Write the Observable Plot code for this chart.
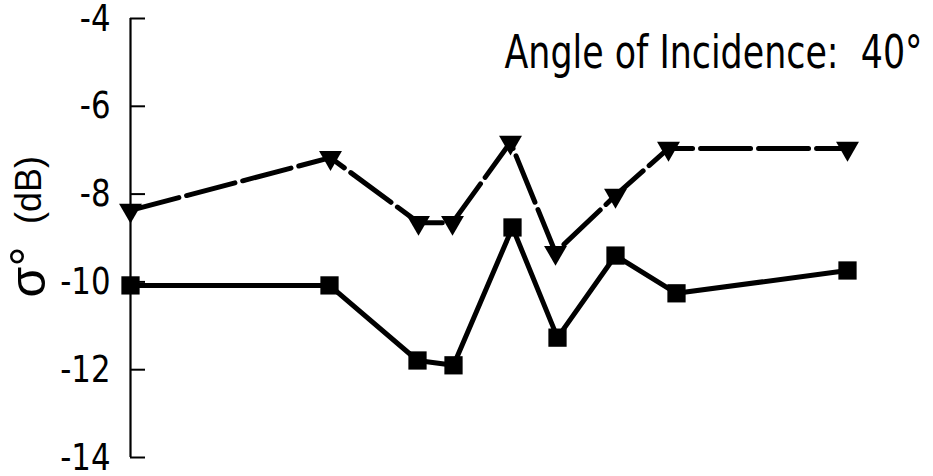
<!DOCTYPE html>
<html>
<head>
<meta charset="utf-8">
<script src="https://cdn.jsdelivr.net/npm/d3@7"></script>
<script src="https://cdn.jsdelivr.net/npm/@observablehq/plot@0.6"></script>
<style>
  html, body { margin: 0; padding: 0; background: #fff; }
  #chart svg { display: block; }
</style>
</head>
<body>
<div id="chart"></div>
<script>
// Backscatter coefficient (dB) along the sampled positions
const yTicks = [-4, -6, -8, -10, -12, -14];

// dashed series, inverted triangles
const triPos = [0, 20.0, 28.8, 32.2, 38.0, 42.5, 48.5, 53.8, 71.7];
const triVal = [-8.37, -7.17, -8.65, -8.65, -6.82, -9.33, -8.03, -6.96, -6.96];

// solid series, squares
const sqPos = [0, 19.9, 28.7, 32.3, 38.2, 42.7, 48.5, 54.6, 71.7];
const sqVal = [-10.08, -10.08, -11.79, -11.90, -8.76, -11.27, -9.40, -10.26, -9.74];

const titleText = "Angle of Incidence:  40°";
const yLabelSymbol = "σ°";
const yLabelUnit = "(dB)";

const tri = triPos.map((x, i) => ({x, y: triVal[i]}));
const sq = sqPos.map((x, i) => ({x, y: sqVal[i]}));

const narrow = "'DejaVu Sans Condensed', 'Liberation Sans Narrow', sans-serif";

const chart = Plot.plot({
  width: 933,
  height: 476,
  marginLeft: 130,
  marginRight: 86,
  marginTop: 18,
  marginBottom: 19,
  style: {fontFamily: narrow, color: "#000", background: "#fff"},
  x: {domain: [0, 71.7], axis: null},
  y: {domain: [-14, -4], axis: null},
  marks: [
    Plot.ruleX([0], {strokeWidth: 2.2}),
    Plot.axisY(yTicks, {
      tickSize: -15,
      tickPadding: 35,
      strokeWidth: 2,
      fontSize: 38,
      stroke: "#000",
      tickFormat: d => String(d),
      label: null
    }),
    Plot.line(tri, {x: "x", y: "y", strokeWidth: 5, strokeDasharray: "50,8"}),
    Plot.line(sq, {x: "x", y: "y", strokeWidth: 5}),
    Plot.dot(tri, {x: "x", y: "y", symbol: "triangle", rotate: 180, r: 8.5, fill: "#000", stroke: null}),
    Plot.dot(sq, {x: "x", y: "y", symbol: "square", r: 10.3, fill: "#000", stroke: null}),
    Plot.text([titleText], {
      frameAnchor: "top-right", textAnchor: "end", lineAnchor: "bottom",
      dx: 75, dy: 49, fontSize: 46, fill: "#000"
    }),
    Plot.text([yLabelUnit], {
      frameAnchor: "left", rotate: -90, textAnchor: "middle", lineAnchor: "middle",
      dx: -101, dy: -48, fontSize: 36, fontFamily: "'Liberation Sans', sans-serif", fill: "#000"
    }),
    Plot.text([yLabelSymbol], {
      frameAnchor: "left", rotate: -90, textAnchor: "middle", lineAnchor: "middle",
      dx: -102, dy: 34, fontSize: 50, fontFamily: "'Liberation Sans', sans-serif", fill: "#000"
    })
  ]
});

document.getElementById("chart").appendChild(chart);

// Narrow the lettering to a condensed width
function condense(nodes, length) {
  nodes.each(function () {
    this.setAttribute("textLength", length(this.getComputedTextLength()));
    this.setAttribute("lengthAdjust", "spacingAndGlyphs");
  });
}
condense(d3.select(chart).selectAll("g[aria-label='y-axis tick label'] text"), w => w * 0.9);
condense(d3.select(chart).selectAll("text").filter(function () { return this.textContent === titleText; }), () => 418);
</script>
</body>
</html>
